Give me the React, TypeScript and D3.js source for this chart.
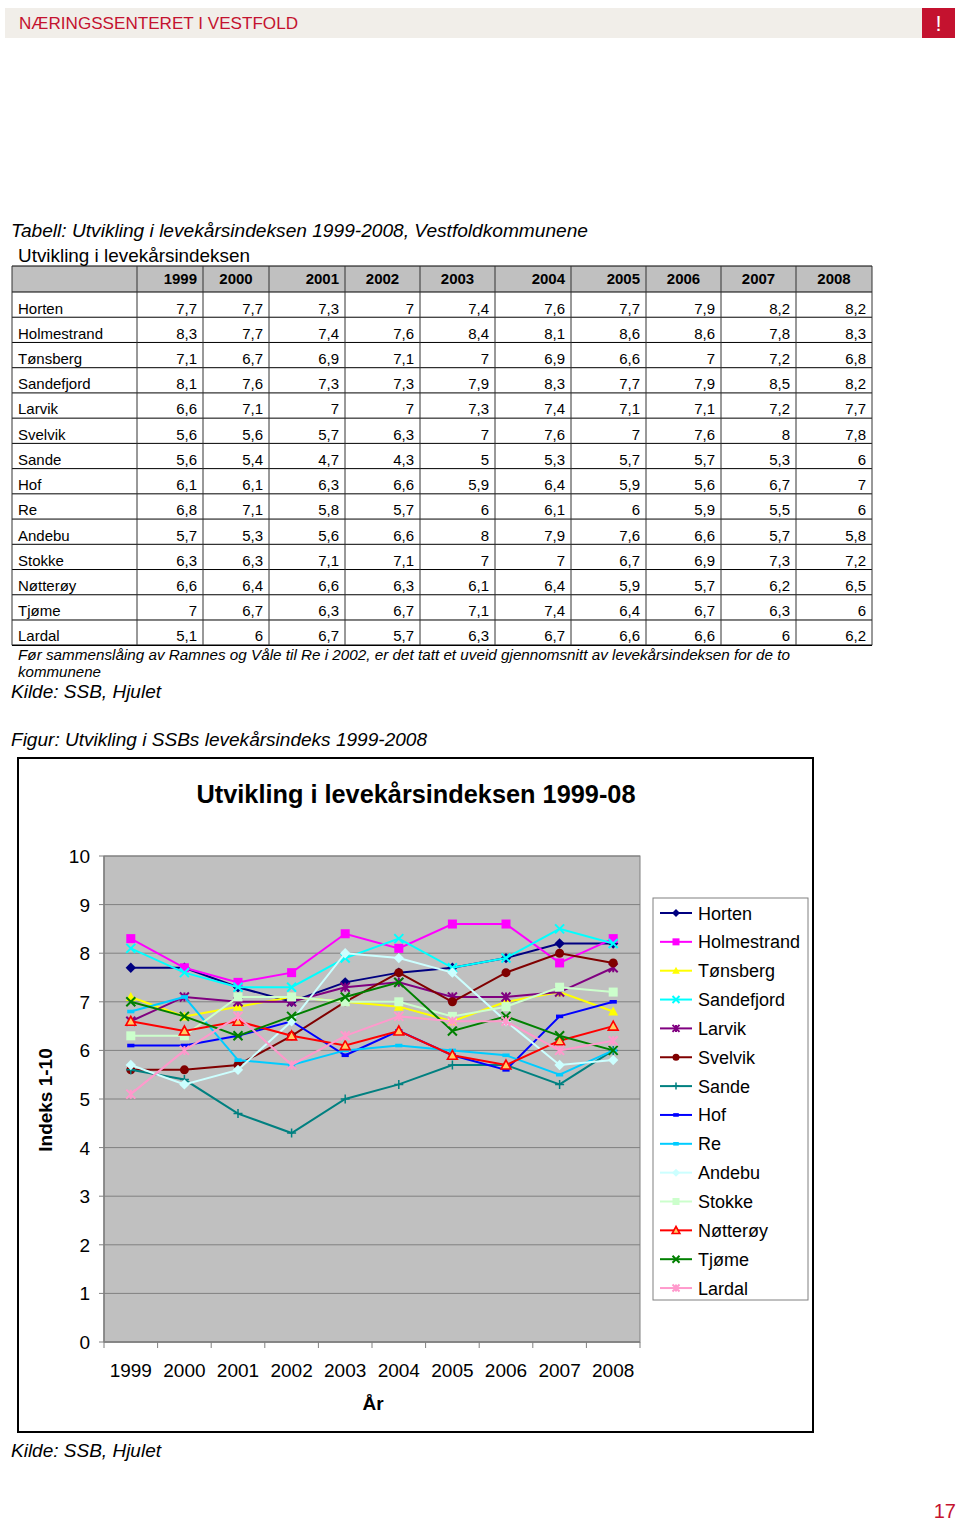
import React from "react";
import * as d3 from "d3";

const years = ["1999", "2000", "2001", "2002", "2003", "2004", "2005", "2006", "2007", "2008"];
const municipalities = ["Horten", "Holmestrand", "Tønsberg", "Sandefjord", "Larvik", "Svelvik", "Sande", "Hof", "Re", "Andebu", "Stokke", "Nøtterøy", "Tjøme", "Lardal"];

const horten = [7.7, 7.7, 7.3, 7, 7.4, 7.6, 7.7, 7.9, 8.2, 8.2];
const holmestrand = [8.3, 7.7, 7.4, 7.6, 8.4, 8.1, 8.6, 8.6, 7.8, 8.3];
const tonsberg = [7.1, 6.7, 6.9, 7.1, 7, 6.9, 6.6, 7, 7.2, 6.8];
const sandefjord = [8.1, 7.6, 7.3, 7.3, 7.9, 8.3, 7.7, 7.9, 8.5, 8.2];
const larvik = [6.6, 7.1, 7, 7, 7.3, 7.4, 7.1, 7.1, 7.2, 7.7];
const svelvik = [5.6, 5.6, 5.7, 6.3, 7, 7.6, 7, 7.6, 8, 7.8];
const sande = [5.6, 5.4, 4.7, 4.3, 5, 5.3, 5.7, 5.7, 5.3, 6];
const hof = [6.1, 6.1, 6.3, 6.6, 5.9, 6.4, 5.9, 5.6, 6.7, 7];
const re = [6.8, 7.1, 5.8, 5.7, 6, 6.1, 6, 5.9, 5.5, 6];
const andebu = [5.7, 5.3, 5.6, 6.6, 8, 7.9, 7.6, 6.6, 5.7, 5.8];
const stokke = [6.3, 6.3, 7.1, 7.1, 7, 7, 6.7, 6.9, 7.3, 7.2];
const notteroy = [6.6, 6.4, 6.6, 6.3, 6.1, 6.4, 5.9, 5.7, 6.2, 6.5];
const tjome = [7, 6.7, 6.3, 6.7, 7.1, 7.4, 6.4, 6.7, 6.3, 6];
const lardal = [5.1, 6, 6.7, 5.7, 6.3, 6.7, 6.6, 6.6, 6, 6.2];

const seriesValues = [horten, holmestrand, tonsberg, sandefjord, larvik, svelvik, sande, hof, re, andebu, stokke, notteroy, tjome, lardal];
const yTicks = [0, 1, 2, 3, 4, 5, 6, 7, 8, 9, 10];

// styles
const colors = ["#000080", "#FF00FF", "#FFFF00", "#00FFFF", "#800080", "#800000", "#008080", "#0000FF", "#00CCFF", "#CCFFFF", "#CCFFCC", "#FF0000", "#008000", "#FF99CC"];
const markers = ["diamond", "square", "triangle", "x", "star", "circle", "plus", "dash", "dash", "diamond", "square", "triangleO", "x", "star"];

const FONT = "'Liberation Sans', Arial, sans-serif";
const colEdges = [12, 137, 203, 269, 345, 420, 495, 571, 646, 721, 796, 872];
const headerAlign = ["r", "c", "r", "c", "c", "r", "r", "c", "c", "c"];

const fmt = (v: number) => String(v).replace(".", ",");

function Marker({ type, x, y, color, s }: { type: string; x: number; y: number; color: string; s: number }) {
  const h = s / 2;
  switch (type) {
    case "diamond":
      return <path d={`M${x},${y - h * 1.15}L${x + h * 1.15},${y}L${x},${y + h * 1.15}L${x - h * 1.15},${y}Z`} fill={color} />;
    case "square":
      return <rect x={x - h} y={y - h} width={s} height={s} fill={color} />;
    case "triangle":
      return <path d={`M${x},${y - h * 1.1}L${x + h * 1.1},${y + h * 0.9}L${x - h * 1.1},${y + h * 0.9}Z`} fill={color} />;
    case "triangleO":
      return <path d={`M${x},${y - h * 1.1}L${x + h * 1.1},${y + h * 0.9}L${x - h * 1.1},${y + h * 0.9}Z`} fill="#FFCC66" stroke={color} strokeWidth={1.6} />;
    case "circle":
      return <circle cx={x} cy={y} r={h} fill={color} />;
    case "x":
      return <path d={`M${x - h},${y - h}L${x + h},${y + h}M${x + h},${y - h}L${x - h},${y + h}`} stroke={color} strokeWidth={2} />;
    case "star":
      return <path d={`M${x - h},${y - h}L${x + h},${y + h}M${x + h},${y - h}L${x - h},${y + h}M${x},${y - h}L${x},${y + h}`} stroke={color} strokeWidth={2} />;
    case "plus":
      return <path d={`M${x - h},${y}L${x + h},${y}M${x},${y - h}L${x},${y + h}`} stroke={color} strokeWidth={1.5} />;
    case "dash":
      return <rect x={x - h * 0.8} y={y - 1.8} width={h * 1.6} height={3.6} fill={color} />;
    default:
      return null;
  }
}

export default function App() {
  const W = 960, H = 1524;
  // table
  const headTop = 266, headBot = 292, rowH = 25.23;
  // chart
  const plotL = 104, plotR = 640, plotT = 856, plotB = 1342;
  const x = d3.scaleBand<string>().domain(years).range([plotL, plotR]);
  const xc = (i: number) => (x(years[i]) as number) + x.bandwidth() / 2;
  const y = d3.scaleLinear().domain([0, 10]).range([plotB, plotT]);
  const line = d3.line<number>().x((_, i) => xc(i)).y((d) => y(d));

  const legX = 653, legY = 898, legW = 155, legH = 402, legStep = 28.85, legFirst = 913;

  return (
    <svg width={W} height={H} style={{ position: "absolute", left: 0, top: 0, background: "#fff" }} fontFamily={FONT}>
      {/* header bar */}
      <rect x={5} y={8} width={950} height={30} fill="#F1EEE9" />
      <text x={19} y={29} fontSize={17} fill="#C4122F" textLength={279} lengthAdjust="spacingAndGlyphs">NÆRINGSSENTERET I VESTFOLD</text>
      <rect x={922} y={8} width={33} height={30} fill="#C4122F" />
      <text x={938.5} y={31} fontSize={22} fill="#fff" textAnchor="middle">!</text>

      {/* table titles */}
      <text x={11} y={237} fontSize={19} fontStyle="italic" fill="#000" textLength={577} lengthAdjust="spacingAndGlyphs">Tabell: Utvikling i levekårsindeksen 1999-2008, Vestfoldkommunene</text>
      <text x={18} y={262} fontSize={19} fill="#000" textLength={232} lengthAdjust="spacingAndGlyphs">Utvikling i levekårsindeksen</text>

      {/* table */}
      <rect x={colEdges[0]} y={headTop} width={colEdges[11] - colEdges[0]} height={headBot - headTop} fill="#C0C0C0" />
      {years.map((yr, j) => {
        const l = colEdges[j + 1], r = colEdges[j + 2];
        const al = headerAlign[j];
        return (
          <text key={yr} x={al === "r" ? r - 6 : (l + r) / 2} y={headBot - 8} fontSize={15} fontWeight="bold" textAnchor={al === "r" ? "end" : "middle"}>{yr}</text>
        );
      })}
      {municipalities.map((m, i) => {
        const top = headBot + i * rowH;
        return (
          <g key={m}>
            <text x={18} y={top + 21.5} fontSize={15}>{m}</text>
            {seriesValues[i].map((v, j) => (
              <text key={j} x={colEdges[j + 2] - 6} y={top + 21.5} fontSize={15} textAnchor="end">{fmt(v)}</text>
            ))}
          </g>
        );
      })}
      {d3.range(0, municipalities.length + 2).map((i) => {
        const yy = i === 0 ? headTop : headBot + (i - 1) * rowH;
        return <line key={"h" + i} x1={colEdges[0]} x2={colEdges[11]} y1={yy} y2={yy} stroke="#000" strokeWidth={i === municipalities.length + 1 ? 1.6 : 1} />;
      })}
      {colEdges.map((cx, k) => (
        <line key={"v" + k} x1={cx} x2={cx} y1={headTop} y2={headBot + municipalities.length * rowH} stroke="#333" strokeWidth={1} />
      ))}

      <text x={18} y={660} fontSize={14.5} fontStyle="italic" textLength={772} lengthAdjust="spacingAndGlyphs">Før sammenslåing av Ramnes og Våle til Re i 2002, er det tatt et uveid gjennomsnitt av levekårsindeksen for de to</text>
      <text x={18} y={677} fontSize={14.5} fontStyle="italic" textLength={83} lengthAdjust="spacingAndGlyphs">kommunene</text>
      <text x={11} y={698} fontSize={19} fontStyle="italic" textLength={150} lengthAdjust="spacingAndGlyphs">Kilde: SSB, Hjulet</text>

      <text x={11} y={746} fontSize={19} fontStyle="italic" textLength={416} lengthAdjust="spacingAndGlyphs">Figur: Utvikling i SSBs levekårsindeks 1999-2008</text>

      {/* chart frame */}
      <rect x={18} y={758} width={795} height={674} fill="#fff" stroke="#000" strokeWidth={2} />
      <text x={416} y={803} fontSize={25} fontWeight="bold" textAnchor="middle" textLength={439} lengthAdjust="spacingAndGlyphs">Utvikling i levekårsindeksen 1999-08</text>

      {/* plot area */}
      <rect x={plotL} y={plotT} width={plotR - plotL} height={plotB - plotT} fill="#C0C0C0" stroke="#808080" strokeWidth={1} />
      {yTicks.map((t) => (
        <g key={t}>
          <line x1={plotL} x2={plotR} y1={y(t)} y2={y(t)} stroke="#808080" strokeWidth={1} />
          <line x1={plotL - 5} x2={plotL} y1={y(t)} y2={y(t)} stroke="#808080" strokeWidth={1} />
          <text x={90} y={y(t) + 7} fontSize={19} textAnchor="end">{t}</text>
        </g>
      ))}
      <line x1={plotL} x2={plotL} y1={plotT} y2={plotB} stroke="#808080" strokeWidth={1.5} />
      <line x1={plotL} x2={plotR} y1={plotB} y2={plotB} stroke="#808080" strokeWidth={1.5} />
      {d3.range(0, years.length + 1).map((k) => {
        const xx = plotL + k * x.bandwidth();
        return <line key={"xt" + k} x1={xx} x2={xx} y1={plotB} y2={plotB + 6} stroke="#808080" strokeWidth={1} />;
      })}
      {years.map((yr, i) => (
        <text key={yr} x={xc(i)} y={1377} fontSize={19} textAnchor="middle">{yr}</text>
      ))}
      <text x={373} y={1410} fontSize={19} fontWeight="bold" textAnchor="middle">År</text>
      <text transform={`translate(52,1100) rotate(-90)`} fontSize={19} fontWeight="bold" textAnchor="middle">Indeks 1-10</text>

      {/* series */}
      {seriesValues.map((vals, si) => (
        <g key={"s" + si}>
          <path d={line(vals) as string} fill="none" stroke={colors[si]} strokeWidth={2} />
          {vals.map((v, i) => (
            <Marker key={i} type={markers[si]} x={xc(i)} y={y(v)} color={colors[si]} s={9} />
          ))}
        </g>
      ))}

      {/* legend */}
      <rect x={legX} y={legY} width={legW} height={legH} fill="#fff" stroke="#808080" strokeWidth={1} />
      {municipalities.map((m, i) => {
        const yy = legFirst + i * legStep;
        return (
          <g key={"l" + m}>
            <line x1={660} x2={692} y1={yy} y2={yy} stroke={colors[i]} strokeWidth={2} />
            <Marker type={markers[i]} x={676} y={yy} color={colors[i]} s={7} />
            <text x={698} y={yy + 6.5} fontSize={18}>{m}</text>
          </g>
        );
      })}

      <text x={11} y={1457} fontSize={19} fontStyle="italic" textLength={150} lengthAdjust="spacingAndGlyphs">Kilde: SSB, Hjulet</text>
      <text x={956} y={1518} fontSize={20} fill="#C4122F" textAnchor="end">17</text>
    </svg>
  );
}
